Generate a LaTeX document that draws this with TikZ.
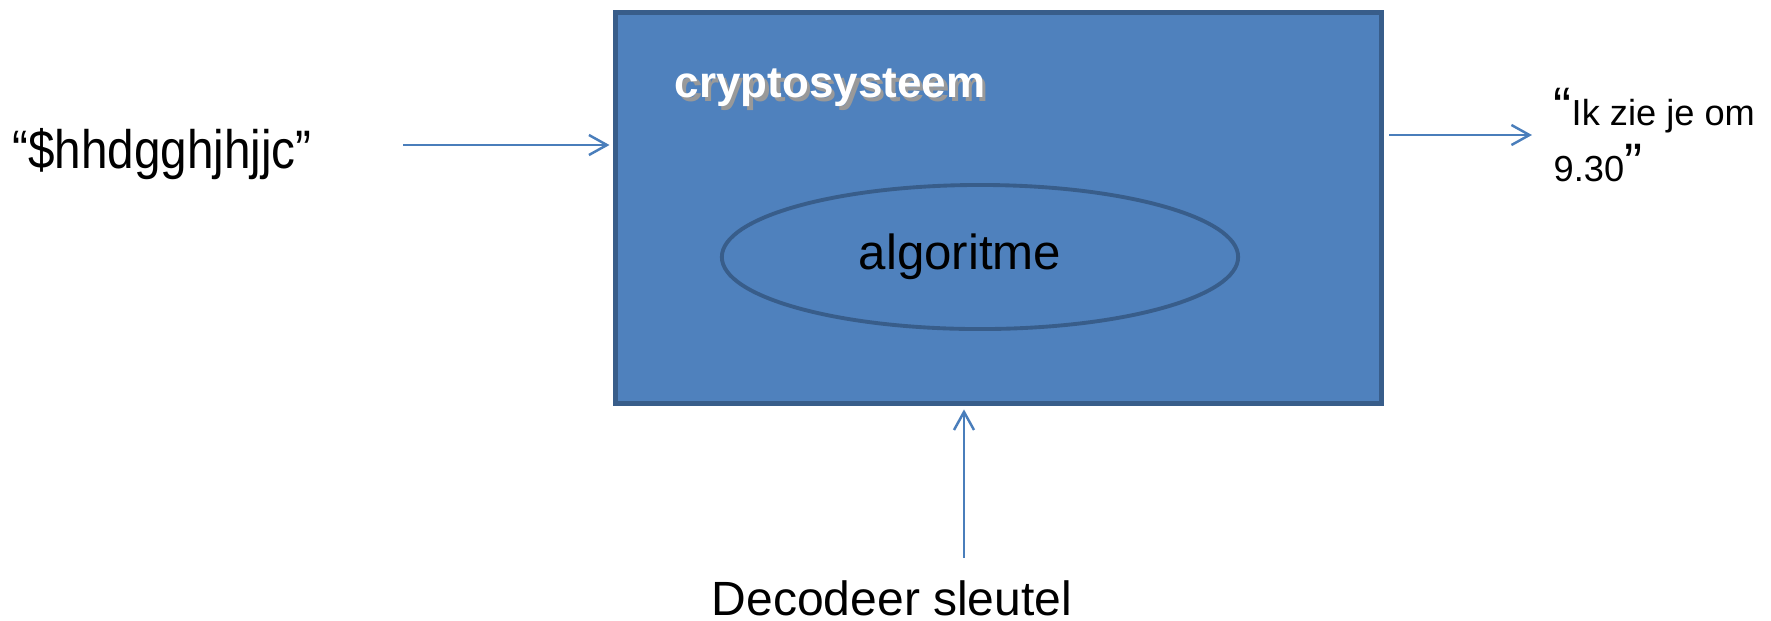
\documentclass[tikz,border=0pt]{standalone}
\usepackage{graphicx}
\usepackage{fontspec}
\setmainfont{Liberation Sans}
\usetikzlibrary{arrows.meta,shapes.geometric}
\definecolor{boxfill}{HTML}{4F81BD}
\definecolor{boxline}{HTML}{385D8A}
\definecolor{arrowblue}{HTML}{4A7EBB}
\newcommand{\bigq}[1]{{\fontsize{15.4pt}{15.4pt}\selectfont #1}}

\begin{document}
\begin{tikzpicture}[x=0.01cm, y=-0.01cm,
  flow/.style={draw=arrowblue, line width=0.7pt, -{Straight Barb[length=1.8mm,width=2mm]}}]
\useasboundingbox (0, 0) rectangle (1771, 620);
\node [draw=boxline, fill=boxfill, line width=1.3pt, inner sep=0pt, minimum width=7.66cm, minimum height=3.91cm] (system) at (998.5, 208) {};
\node [ellipse, draw=boxline, line width=1.1pt, inner sep=0pt, minimum width=5.16cm, minimum height=1.44cm, font=\fontsize{14pt}{16pt}\selectfont] (algo) at (980, 257) {algoritme\kern0.4cm};
\node [anchor=base, text=white, font=\fontsize{12.5pt}{15pt}\selectfont\bfseries] (title) at (830, 97) {\makebox[0pt][l]{\kern1pt\raisebox{-1.2pt}{\textcolor{black!40}{cryptosysteem}}}cryptosysteem};
\node [anchor=base, inner sep=0pt, font=\fontsize{15.4pt}{18pt}\selectfont] (cipher) at (162, 168) {\scalebox{0.88}[1]{“\$hhdgghjhjjc”}};
\node [anchor=north west, inner sep=0pt, align=left, font=\fontsize{10.3pt}{15.65pt}\selectfont] (plain) at (1553, 88) {\bigq{“}Ik zie je om\\9.30\bigq{”}};
\node [anchor=base, inner sep=0pt, font=\fontsize{13.66pt}{16pt}\selectfont] (key) at (892, 615) {Decodeer sleutel};
\coordinate (inL) at (403, 145);
\coordinate (outR) at (1532, 135);
\coordinate (keyIn) at (964, 558);
\draw [flow, shorten >=1pt] (inL) -- (inL -| system.west);
\draw [flow, shorten <=1.5pt] (outR -| system.east) -- (outR);
\draw [flow, shorten >=1pt] (keyIn) -- (keyIn |- system.south);
\end{tikzpicture}
\end{document}
